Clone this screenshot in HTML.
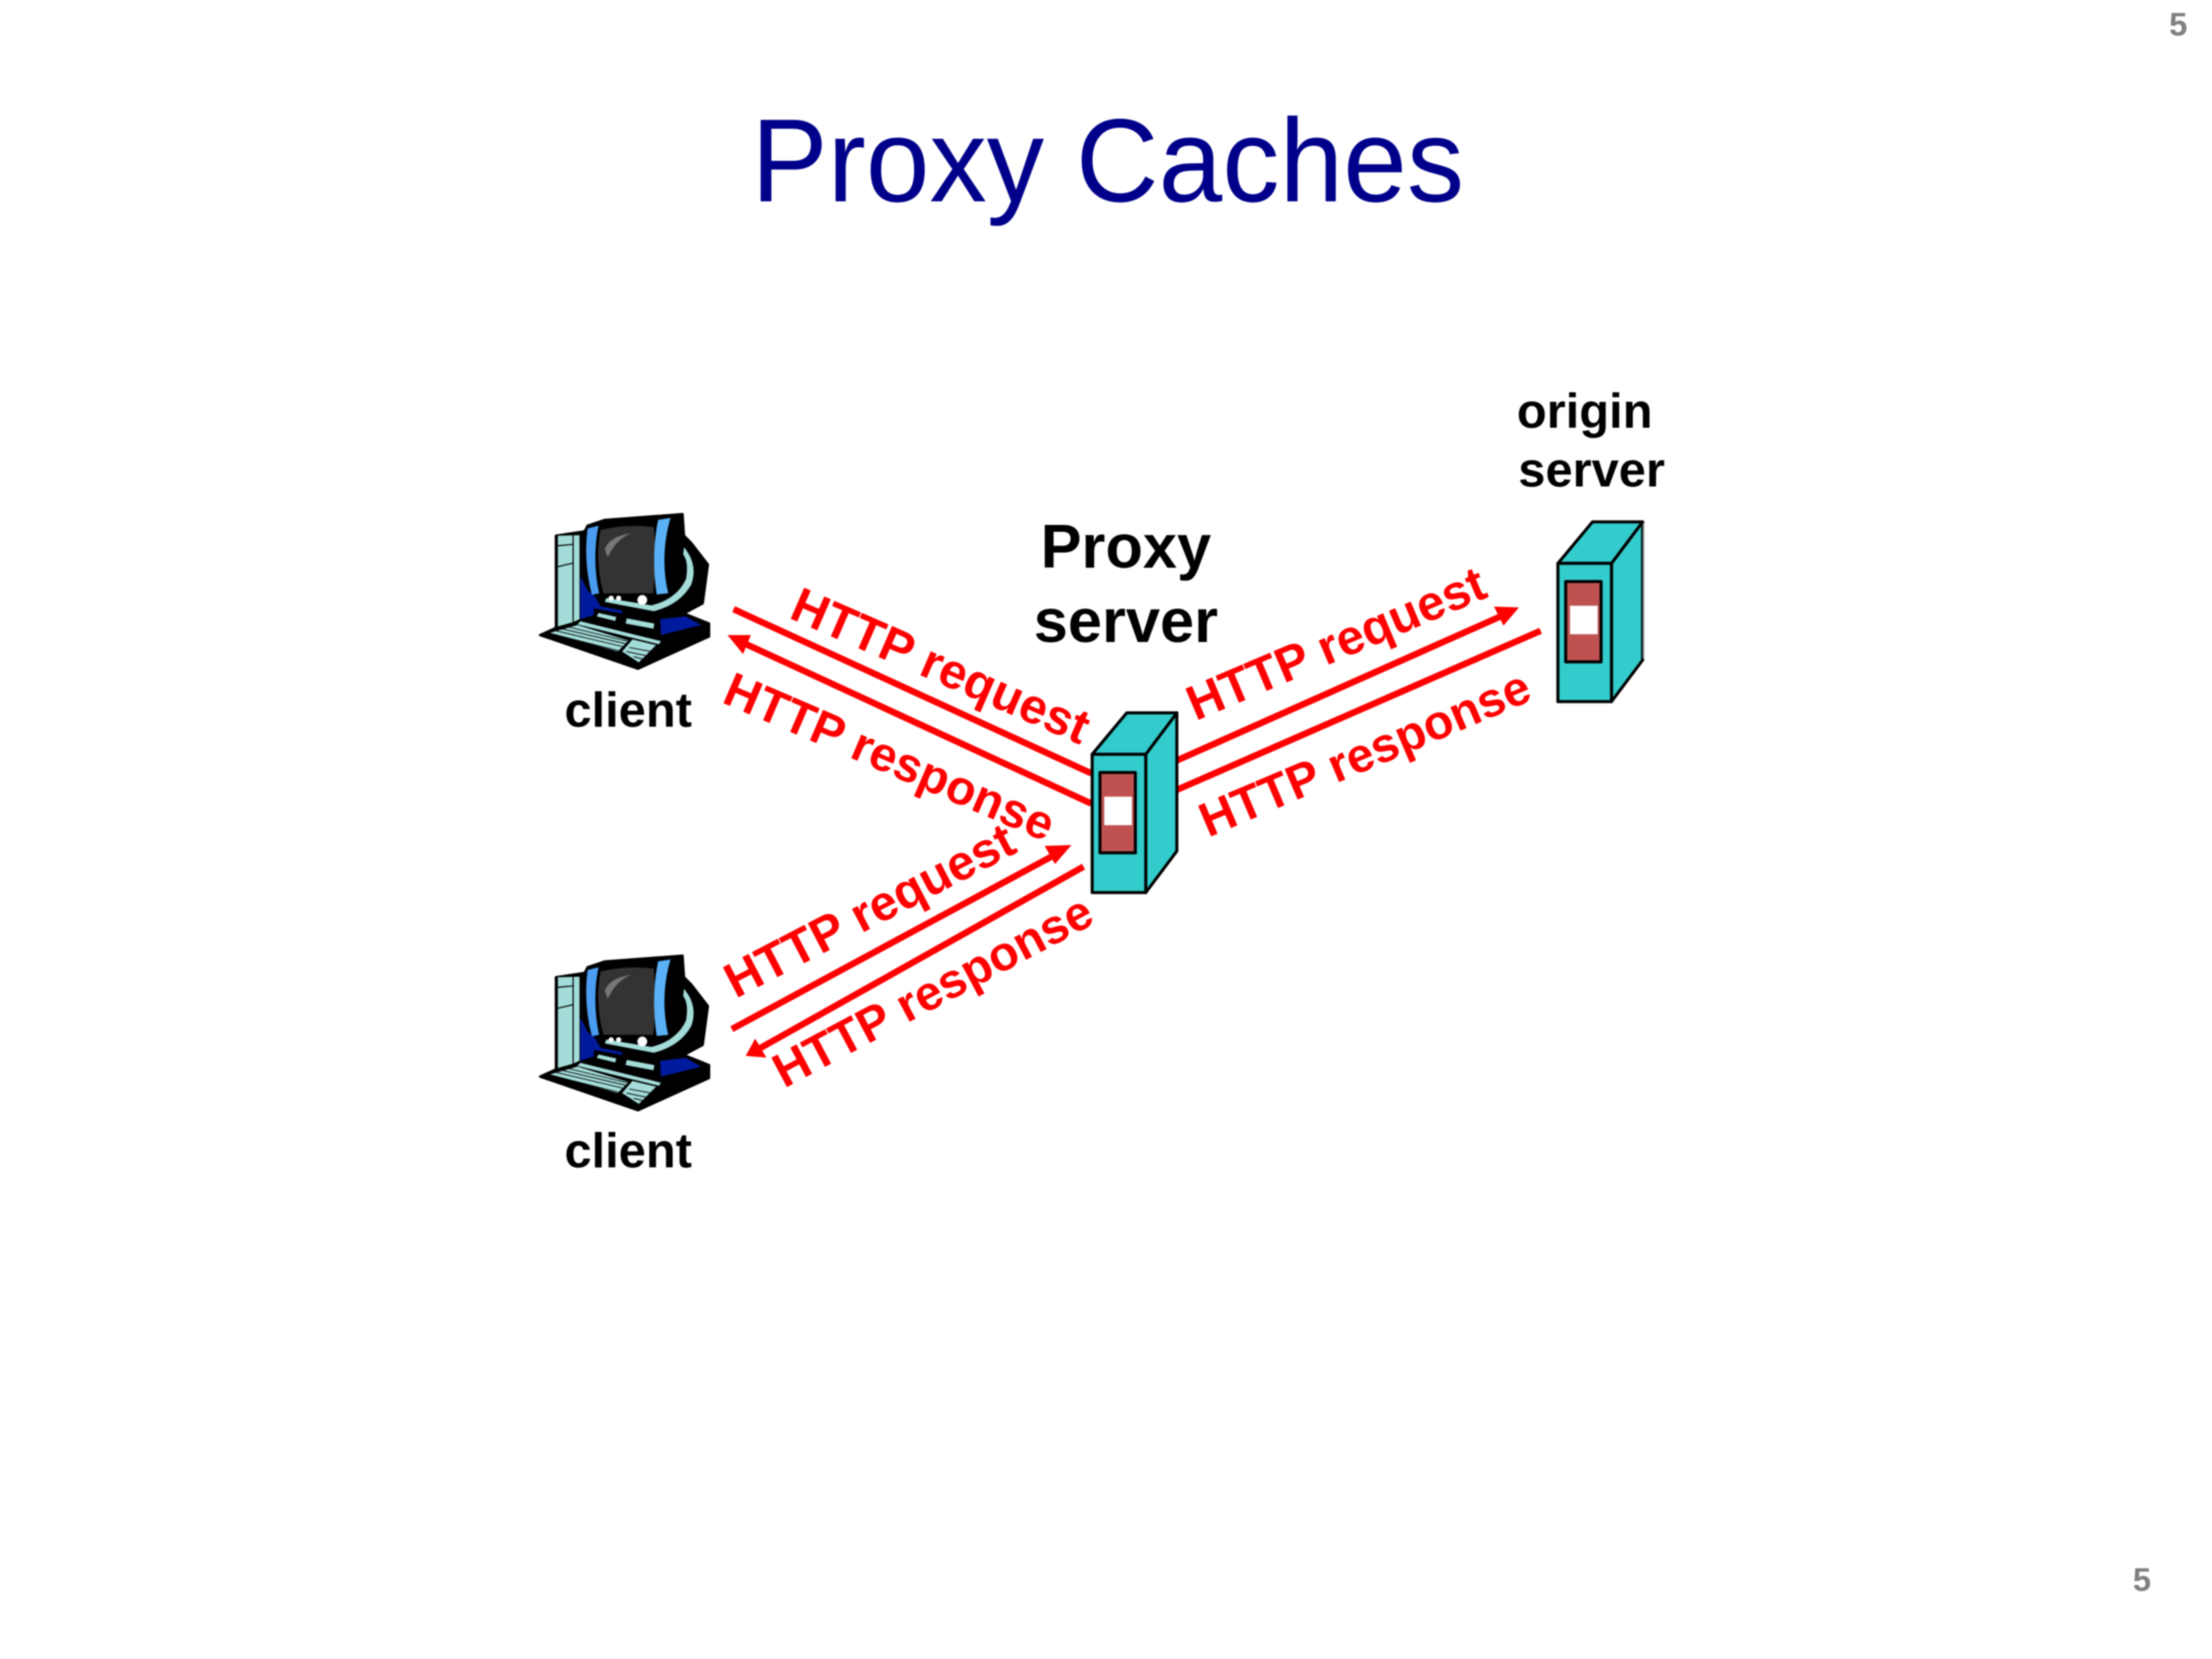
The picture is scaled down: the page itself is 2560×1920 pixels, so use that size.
<!DOCTYPE html>
<html>
<head>
<meta charset="utf-8">
<title>Proxy Caches</title>
<style>
html,body{margin:0;padding:0;background:#fff;width:2560px;height:1920px;overflow:hidden}
svg{display:block;filter:blur(0.9px)}
text{font-family:"Liberation Sans",Arial,sans-serif}
.b{font-weight:bold;fill:#000;text-anchor:middle}
.h{font-weight:bold;fill:#f00;text-anchor:middle;font-size:57px}
.r{font-size:56px}
.l{stroke:#f00;stroke-width:7.5;fill:none}
.p{font-weight:bold;fill:#808080;font-size:38px;text-anchor:middle}
</style>
</head>
<body>
<svg width="2560" height="1920" viewBox="0 0 2560 1920" xmlns="http://www.w3.org/2000/svg">
<defs>
<g id="server" stroke="#000" stroke-width="3.5" stroke-linejoin="round">
  <polygon points="1326,873 1362,825 1362,985 1326,1033" fill="#33cccc"/>
  <polygon points="1264,873 1304,825 1362,825 1326,873" fill="#33cccc"/>
  <rect x="1264" y="873" width="62" height="160" fill="#33cccc"/>
  <rect x="1273" y="894" width="41" height="93" fill="#bf5250"/>
  <rect x="1278" y="922" width="32" height="33" fill="#fff" stroke="none"/>
</g>
<g id="pc">
  <path fill="#000" stroke="#000" stroke-width="8" stroke-linejoin="round" d="M75,495 L130,470 L130,150 L230,135 L240,115 L300,95 L570,75 L575,150 L600,175 L658,250 L640,385 L575,420 L662,455 L662,500 L415,612 Z"/>
  <polygon fill="#a3dcd8" points="137,150 212,148 212,440 190,450 137,465"/>
  <path stroke="#000" stroke-width="4" fill="none" d="M190,145 V450 M135,185 L190,180 M135,258 L190,245"/>
  <polygon fill="#001a9e" points="215,290 240,340 265,360 285,395 360,410 360,420 262,402 262,425 215,440"/>
  <path fill="#4a9cf0" d="M240,125 L278,115 Q255,230 280,350 L255,355 Q225,240 240,125 Z"/>
  <path fill="#333" d="M285,130 Q380,108 470,120 Q480,240 468,350 L295,350 Q265,240 285,130 Z"/>
  <path fill="#777" d="M300,195 Q320,150 392,142 Q340,160 310,225 Z"/>
  <path fill="#5ab0f5" d="M485,95 L528,88 Q490,220 520,350 L480,354 Q460,220 485,95 Z"/>
  <path fill="#a3dcd8" d="M575,190 Q625,250 600,320 Q560,390 470,412 L300,380 L305,366 L462,392 Q550,370 582,300 Q592,240 572,215 Z"/>
  <circle cx="322" cy="367" r="9" fill="#fff"/>
  <circle cx="348" cy="367" r="9" fill="#fff"/>
  <circle cx="430" cy="373" r="17" fill="#fff"/>
  <polygon fill="#001a9e" points="492,440 580,430 635,460 495,495"/>
  <polygon fill="#a3dcd8" points="278,418 340,432 336,446 272,430"/>
  <polygon fill="#a3dcd8" points="376,437 472,455 469,473 372,455"/>
  <polygon fill="#a3dcd8" points="215,447 495,516 488,527 205,458"/>
  <polygon fill="#a3dcd8" points="110,487 205,460 382,514 345,552"/>
  <polygon fill="#a3dcd8" points="360,552 396,510 478,530 418,590"/>
  <path stroke="#000" stroke-width="3" fill="none" d="M130,480 L362,535 M150,473 L372,525 M170,466 L380,517 M385,538 L460,552 M375,552 L445,567 M400,570 L430,578 M120,492 L350,550"/>
</g>
</defs>

<rect width="2560" height="1920" fill="#fff"/>

<text x="1282" y="233" font-size="137" fill="#00008b" text-anchor="middle" textLength="825" lengthAdjust="spacingAndGlyphs">Proxy Caches</text>

<text class="p" x="2521" y="41">5</text>
<text class="p" x="2479" y="1841">5</text>

<g transform="translate(600,570) scale(0.3333)"><use href="#pc"/></g>
<g transform="translate(600,1081) scale(0.3333)"><use href="#pc"/></g>

<text class="b" font-size="56.5" x="727" y="841">client</text>
<text class="b" font-size="56.5" x="727" y="1351">client</text>
<text class="b" font-size="56.5" x="1834" y="495">origin</text>
<text class="b" font-size="56.5" x="1842" y="563">server</text>
<text class="b" font-size="71" x="1303" y="657">Proxy</text>
<text class="b" font-size="71" x="1303" y="743">server</text>

<g class="l">
  <line x1="849" y1="705" x2="1263" y2="895"/>
  <line x1="858" y1="743" x2="1263" y2="930"/>
  <line x1="1360" y1="881" x2="1742" y2="711"/>
  <line x1="1360" y1="915" x2="1783" y2="730"/>
  <line x1="847" y1="1191" x2="1225" y2="987"/>
  <line x1="1254" y1="1003" x2="878" y2="1214"/>
</g>
<g fill="#f00">
  <polygon points="842,735 869,735 860,757"/>
  <polygon points="1758,703 1740,724 1729,702"/>
  <polygon points="1240,978 1221,1000 1209,979"/>
  <polygon points="863,1222 887,1224 874,1202"/>
</g>

<use href="#server"/>
<use href="#server" x="539" y="-221"/>
<line x1="1902" y1="606" x2="1902" y2="762" stroke="#8a8a8a" stroke-width="2"/>

<g transform="translate(1089,770) rotate(23.5)"><text class="h" y="20">HTTP request</text></g>
<g transform="translate(1030,875) rotate(23.3)"><text class="h r" y="20">HTTP response</text></g>
<g transform="translate(1546,744) rotate(-23)"><text class="h" y="20">HTTP request</text></g>
<g transform="translate(1579,871) rotate(-23)"><text class="h r" y="20">HTTP response</text></g>
<g transform="translate(1006,1053) rotate(-27.5)"><text class="h" y="20">HTTP request</text></g>
<g transform="translate(1079,1146) rotate(-28)"><text class="h r" y="20">HTTP response</text></g>
</svg>
</body>
</html>
